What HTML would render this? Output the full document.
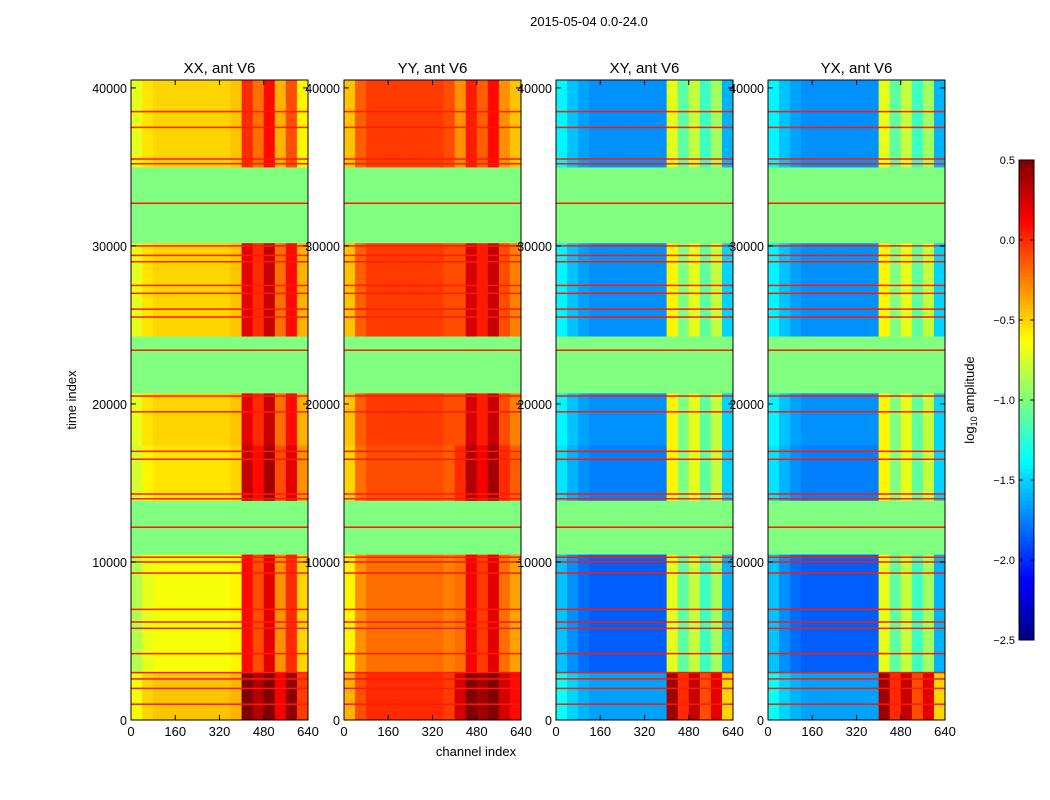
<!DOCTYPE html>
<html><head><meta charset="utf-8">
<style>
body{margin:0;background:#fff;}
svg{display:block;font-family:"Liberation Sans",sans-serif;}
</style></head>
<body>
<svg id="fig" width="1050" height="800" xmlns="http://www.w3.org/2000/svg">
<text x="589" y="26" font-size="13" text-anchor="middle">2015-05-04 0.0-24.0</text>
<text x="476" y="756" font-size="13" text-anchor="middle">channel index</text>
<text x="76" y="400" font-size="13" text-anchor="middle" transform="rotate(-90 76 400)">time index</text>
<g id="panels"></g>
<g id="cbar"></g>
<text x="974" y="400" font-size="13" text-anchor="middle" transform="rotate(-90 974 400)">log<tspan font-size="9" dy="3">10</tspan><tspan dy="-3"> amplitude</tspan></text>
</svg>
<script>
// ---- data ----
const panelTitles = ["XX, ant V6","YY, ant V6","XY, ant V6","YX, ant V6"];
const channelBinEdges = [0,40,80,120,160,200,240,280,320,360,400,440,480,520,560,600,640];
const profileXX = [-0.75,-0.6,-0.55,-0.55,-0.55,-0.55,-0.55,-0.55,-0.55,-0.5,0.1,-0.1,0.2,-0.3,0.0,-0.5];
const profileYY = [-0.5,-0.2,-0.1,-0.1,-0.1,-0.1,-0.1,-0.1,-0.1,-0.15,-0.2,0.15,-0.05,0.2,-0.2,-0.35];
const profileXY = [-1.45,-1.6,-1.7,-1.75,-1.75,-1.75,-1.75,-1.75,-1.75,-1.75,-0.7,-1.1,-0.8,-1.2,-0.9,-1.6];
const profileYX = [-1.45,-1.6,-1.7,-1.75,-1.75,-1.75,-1.75,-1.75,-1.75,-1.75,-0.7,-1.1,-0.8,-1.2,-0.9,-1.6];
const bandStart = [0,3000,10500,13900,17400,20700,24300,30200,35000];
const bandEnd   = [3000,10500,13900,17400,20700,24300,30200,35000,40500];
const bandFlag  = [0,0,1,0,0,1,0,1,0];
const bandLoOff = [0.1,-0.1,0,0,0.05,0,0.05,0,0.05];
const bandHiOff = [0.45,0,0,0.2,0.1,0,0.1,0,-0.1];
const bandHiOffCross = [1.1,0,0,0.1,0.1,0,0.1,0,0];
const flagValue = -1.0;
const lineTimes = [1000,2000,2600,3000,4200,5800,6200,7000,9300,10000,10300,12200,14000,14300,16500,17000,19500,20500,23400,25500,26000,27000,27500,29000,29400,30000,32700,35200,35500,37500,38500];
const lineValue = 0.05;
const xTicks = [0,160,320,480,640];
const yTicks = [0,10000,20000,30000,40000];
const cbTicks = [0.5,0.0,-0.5,-1.0,-1.5,-2.0,-2.5];
// ---- layout ----
const profiles=[profileXX,profileYY,profileXY,profileYX];
const panelX=[131,344,556,768], PW=177, PT=80, PB=720;
const vmin=-2.5,vmax=0.5, tmax=40500;
function clamp(v){return Math.max(0,Math.min(1,v));}
function jet(v){const t=clamp((v-vmin)/(vmax-vmin));
 const r=clamp(1.5-Math.abs(4*t-3)),g=clamp(1.5-Math.abs(4*t-2)),b=clamp(1.5-Math.abs(4*t-1));
 return `rgb(${Math.round(r*255)},${Math.round(g*255)},${Math.round(b*255)})`;}
const NS="http://www.w3.org/2000/svg";
function mk(tag,attrs,parent){const e=document.createElementNS(NS,tag);for(const k in attrs)e.setAttribute(k,attrs[k]);parent.appendChild(e);return e;}
const root=document.getElementById('panels');
profiles.forEach((prof,p)=>{
 const x0=panelX[p];
 const hiOff=p>=2?bandHiOffCross:bandHiOff;
 const sx=c=>x0+c/640*PW, sy=t=>PB-t/tmax*(PB-PT);
 const g=mk('g',{},root);
 
 
 for(let b=0;b<bandStart.length;b++){
  for(let i=0;i<prof.length;i++){
   const v=bandFlag[b]?flagValue:prof[i]+(i>=10?hiOff[b]:bandLoOff[b]);
   const r=mk('rect',{x:sx(channelBinEdges[i]),y:sy(bandEnd[b]),width:sx(channelBinEdges[i+1])-sx(channelBinEdges[i])+0.5,height:sy(bandStart[b])-sy(bandEnd[b])+0.5,fill:jet(v)},g);
   
   
  }
 }
 lineTimes.forEach(t=>{
  const l=mk('rect',{x:x0,y:sy(t)-0.75,width:PW,height:1.5,fill:jet(lineValue)},g);
  
  
 });
 const fr=mk('rect',{x:x0,y:PT,width:PW,height:PB-PT,fill:'none',stroke:'#000','stroke-width':1},g);
 
 
 const tt=mk('text',{x:x0+PW/2,y:PT-7,'font-size':15,'text-anchor':'middle'},g);tt.textContent=panelTitles[p];
 
 
 xTicks.forEach(c=>{
  mk('line',{x1:sx(c),x2:sx(c),y1:PB,y2:PB-5,stroke:'#000'},g);
  mk('line',{x1:sx(c),x2:sx(c),y1:PT,y2:PT+5,stroke:'#000'},g);
  const t=mk('text',{x:sx(c),y:PB+16,'font-size':13,'text-anchor':'middle'},g);t.textContent=c;
  
  
 });
 yTicks.forEach(v=>{
  mk('line',{x1:x0,x2:x0+5,y1:sy(v),y2:sy(v),stroke:'#000'},g);
  mk('line',{x1:x0+PW,x2:x0+PW-5,y1:sy(v),y2:sy(v),stroke:'#000'},g);
  const t=mk('text',{x:x0-4,y:sy(v)+5,'font-size':12.5,'text-anchor':'end'},g);t.textContent=v;
  
  
 });
});
// colorbar
const cb=document.getElementById('cbar');


const CX=1019,CW=15,CT=160,CB=640,N=120;
for(let i=0;i<N;i++){
 const v=vmin+(i+0.5)/N*(vmax-vmin);
 mk('rect',{x:CX,y:CB-(i+1)/N*(CB-CT),width:CW,height:(CB-CT)/N+0.5,fill:jet(v)},cb);
}
mk('rect',{x:CX,y:CT,width:CW,height:CB-CT,fill:'none',stroke:'#000'},cb);
cbTicks.forEach(v=>{
 const y=CB-(v-vmin)/(vmax-vmin)*(CB-CT);
 mk('line',{x1:CX,x2:CX+4,y1:y,y2:y,stroke:'#000'},cb);
 mk('line',{x1:CX+CW,x2:CX+CW-4,y1:y,y2:y,stroke:'#000'},cb);
 const t=mk('text',{x:CX-4,y:y+4,'font-size':11,'text-anchor':'end'},cb);
 t.textContent=(v<0?'\u2212':'')+Math.abs(v).toFixed(1);
 
 
});
</script>
</body></html>
